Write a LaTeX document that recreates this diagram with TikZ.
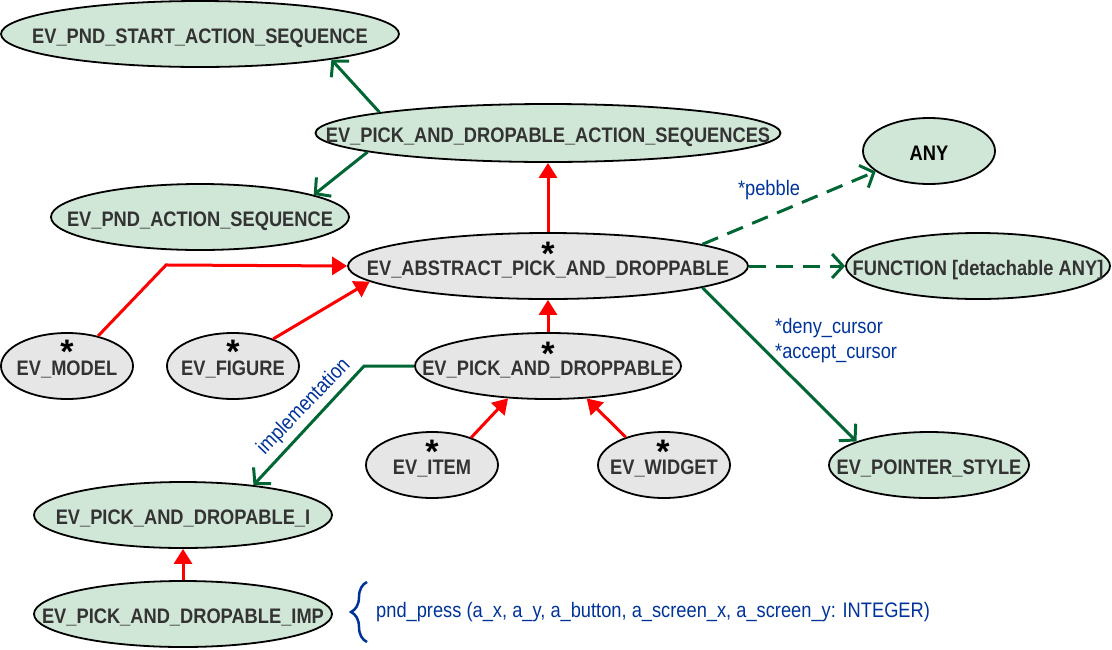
\documentclass[tikz,border=0pt]{standalone}
\usepackage{fontspec}
\setmainfont{Liberation Sans}[FakeStretch=0.87]
\newfontfamily\starfont{Liberation Sans}
\usetikzlibrary{arrows.meta,shapes.geometric,decorations.pathreplacing}
\definecolor{gfill}{HTML}{D0E6D6}
\definecolor{ofill}{HTML}{E6E6E6}
\definecolor{gline}{HTML}{006633}
\definecolor{btext}{HTML}{003399}
\definecolor{ntext}{HTML}{333333}
\newcommand{\ctext}[1]{\makebox[0pt][c]{\raisebox{-9.5pt}[0pt][0pt]{#1}}}
\begin{document}
\begin{tikzpicture}[x=1pt,y=-1pt,
 cls/.style={ellipse, draw=black, line width=1.8pt, inner sep=0pt,
   font=\bfseries\fontsize{21}{25}\selectfont, text=ntext},
 gcls/.style={cls, fill=gfill},
 ocls/.style={cls, fill=ofill},
 star/.style={font=\starfont\bfseries\fontsize{34}{34}\selectfont, inner sep=0pt, text=black, anchor=north},
 inh/.style={draw=red, line width=3pt, -{Triangle[length=15pt,width=18pt]}},
 cli/.style={draw=gline, line width=3pt, -{Straight Barb[length=11pt,width=24pt,line width=3pt]}},
 dcli/.style={cli, dash pattern=on 17pt off 10pt},
 lbl/.style={font=\fontsize{21}{25}\selectfont, text=btext, inner sep=0pt},
]
\useasboundingbox (0,0) rectangle (1112,649);

% nodes
\node[gcls, minimum width=398, minimum height=66] (start) at (200,34) {\ctext{EV\_PND\_START\_ACTION\_SEQUENCE}};
\node[gcls, minimum width=465, minimum height=58] (seqs) at (548,133) {\ctext{EV\_PICK\_AND\_DROPABLE\_ACTION\_SEQUENCES}};
\node[gcls, minimum width=298, minimum height=66] (pas) at (200,217) {\ctext{EV\_PND\_ACTION\_SEQUENCE}};
\node[gcls, minimum width=132, minimum height=66, text=black] (any) at (929,151) {\ctext{ANY}};
\node[gcls, minimum width=264, minimum height=66] (fn) at (978,266) {\ctext{FUNCTION [detachable ANY]}};
\node[ocls, minimum width=400, minimum height=66] (abs) at (548,266) {\ctext{EV\_ABSTRACT\_PICK\_AND\_DROPPABLE}};
\node[ocls, minimum width=266, minimum height=66] (pnd) at (548,366) {\ctext{EV\_PICK\_AND\_DROPPABLE}};
\node[ocls, minimum width=132, minimum height=66] (model) at (67,366) {\ctext{EV\_MODEL}};
\node[ocls, minimum width=132, minimum height=66] (fig) at (233,366) {\ctext{EV\_FIGURE}};
\node[ocls, minimum width=132, minimum height=66] (item) at (432,465) {\ctext{EV\_ITEM}};
\node[ocls, minimum width=132, minimum height=66] (wid) at (664,465) {\ctext{EV\_WIDGET}};
\node[gcls, minimum width=200, minimum height=66] (ptr) at (929,465) {\ctext{EV\_POINTER\_STYLE}};
\node[gcls, minimum width=298, minimum height=66] (pi) at (183,515) {\ctext{EV\_PICK\_AND\_DROPABLE\_I}};
\node[gcls, minimum width=298, minimum height=66] (imp) at (183,614) {\ctext{EV\_PICK\_AND\_DROPABLE\_IMP}};

% asterisks
\node[star] (sabs) at (548,242) {*};
\node[star] (spnd) at (548,342) {*};
\node[star] (smodel) at (67,340) {*};
\node[star] (sfig) at (233,340) {*};
\node[star] (sitem) at (432,440) {*};
\node[star] (swid) at (663,440) {*};

% connectors
\draw[cli] (seqs.173.3) -- (start.-11.7);
\draw[cli] (seqs.186.1) -- (pas.11);
\draw[inh] (abs.north) -- (seqs.south);
\draw[inh] (model.44) -- ++(68,-71) -- (abs.west);
\draw[inh] (fig.34.7) -- (abs.185.2);
\draw[inh] (pnd.north) -- (abs.south);
\draw[inh] (item.35.4) -- (pnd.219.7);
\draw[inh] (wid.144.6) -- (pnd.320.7);
\draw[cli] (pnd.west) -- ++(-50,0) -- (pi.23.8);
\draw[cli] (abs.-8.6) -- (ptr.162.7);
\draw[dcli] (abs.8.6) -- (any.201.3);
\draw[dcli] (abs.east) -- (fn.west);
\draw[inh] (imp.north) -- (pi.south);

% labels
\node[lbl, rotate=46] (impl) at (304,407) {implementation};
\node[lbl] (pebble) at (769,190) {*pebble};
\node[lbl, anchor=west, align=left] (curs) at (775,341) {*deny\_cursor\\*accept\_cursor};
\coordinate (bb) at (367,642);
\coordinate (bt) at (367,582);
\draw[btext, line width=2.5pt, decorate, decoration={brace, amplitude=16pt}] (bb) -- (bt);
\node[lbl, anchor=west] (press) at (376,612) {pnd\_press (a\_x, a\_y, a\_button, a\_screen\_x, a\_screen\_y: INTEGER)};
\end{tikzpicture}
\end{document}
